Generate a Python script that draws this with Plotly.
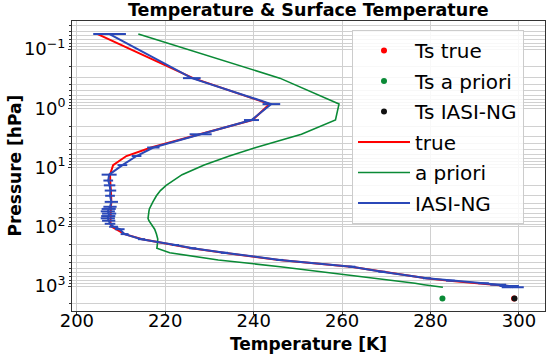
import plotly.graph_objects as go

# ---------------- data ----------------
pressure = [0.056, 0.31, 0.85, 1.58, 2.75, 4.6, 6.4, 9.1, 13.2, 16.6, 20, 24.5, 30, 38,
            46, 50, 55, 60, 66, 72, 79, 89, 100, 110, 133, 162, 203, 231, 275, 363,
            472, 574, 741, 813, 900, 950, 1000, 1050]
t_true = [204.7, 226.3, 243.6, 239.7, 227.8, 216.8, 211.2, 208.2, 207.5, 207.5, 207.6, 207.7, 207.8, 207.8,
          207.7, 207.7, 207.6, 207.6, 207.6, 207.6, 207.6, 207.6, 207.9, 208.8, 210.8, 214.8, 222.5, 226.0, 233.2, 245.7,
          262.0, 269.2, 279.0, 284.3, 291.8, 295.0, 297.5, 298.3]
t_apriori = [213.9, 245.9, 259.3, 258.5, 250.8, 240.5, 234.5, 228.8, 223.8, 221.7, 220.2, 218.9, 218.0, 217.2,
             216.6, 216.4, 216.3, 216.2, 216.1, 216.1, 216.3, 216.8, 217.3, 217.6, 218.0, 218.3, 218.2, 218.1, 221.0, 232.0,
             246.0, 255.5, 268.5, 272.5, 276.5, 278.5, 280.5, 282.8]
t_iasi = [207.4, 226.0, 244.0, 239.5, 228.0, 217.3, 213.5, 210.3, 207.3, 207.1, 207.4, 207.6, 207.5, 207.8,
          207.5, 207.2, 207.0, 207.3, 207.1, 207.0, 207.2, 207.5, 208.3, 209.7, 210.8, 214.6, 222.3, 226.2, 233.4, 245.9,
          262.2, 269.0, 279.2, 284.5, 292.0, 295.3, 297.8, 298.6]
t_iasi_err = [3.7, 2.0, 2.0, 1.7, 2.5, 1.4, 1.1, 1.1, 1.7, 1.1, 1.3, 1.3, 1.1, 1.5,
              1.5, 1.6, 1.6, 1.6, 1.6, 1.6, 1.5, 1.2, 1.0, 1.1, 0.9, 0.8, 0.8, 0.8, 0.8, 0.8,
              0.8, 0.8, 0.9, 1.0, 1.2, 1.8, 2.2, 2.5]

ts_pressure = 1620
ts_true = 298.9
ts_apriori = 282.7
ts_iasi = 299.0

x_ticks = [200, 220, 240, 260, 280, 300]
y_ticks = [0.1, 1, 10, 100, 1000]
y_tick_labels = ["10<sup>\u22121</sup>", "10<sup>0</sup>", "10<sup>1</sup>", "10<sup>2</sup>", "10<sup>3</sup>"]

RED = "#ff0000"
GREEN = "#0a8a36"
BLUE = "#2a48b8"
BLACK = "#111111"
GRID = "#d0d0d0"
FONT = "DejaVu Sans"

# layout geometry (pixels)
W, H = 550, 357
ML, MR, MT, MB = 72, 5, 21, 46
PW, PH = W - ML - MR, H - MT - MB

# minor grid values 2..9 x each decade
minor_vals = [m * 10.0 ** e for e in range(-2, 4) for m in range(2, 10)]

fig = go.Figure()
fig.add_trace(go.Scatter(x=[ts_true], y=[ts_pressure], mode="markers", name="Ts true",
                         marker=dict(color=RED, size=6), legendgroup="g1"))
fig.add_trace(go.Scatter(x=[ts_apriori], y=[ts_pressure], mode="markers", name="Ts a priori",
                         marker=dict(color=GREEN, size=6), legendgroup="g2"))
fig.add_trace(go.Scatter(x=[ts_iasi], y=[ts_pressure], mode="markers", name="Ts IASI-NG",
                         marker=dict(color=BLACK, size=6), legendgroup="g3"))
fig.add_trace(go.Scatter(x=t_true, y=pressure, mode="lines", name="true",
                         line=dict(color=RED, width=2), legendgroup="g4"))
fig.add_trace(go.Scatter(x=t_apriori, y=pressure, mode="lines", name="a priori",
                         line=dict(color=GREEN, width=1.6), legendgroup="g5"))
fig.add_trace(go.Scatter(x=t_iasi, y=pressure, mode="lines", name="IASI-NG",
                         line=dict(color=BLUE, width=2), legendgroup="g6",
                         error_x=dict(type="data", array=t_iasi_err, color=BLUE, thickness=2, width=0)))

fig.update_layout(
    width=W, height=H,
    margin=dict(l=ML, r=MR, t=MT, b=MB, autoexpand=False),
    plot_bgcolor="white", paper_bgcolor="white",
    font=dict(family=FONT, color="black"),
    showlegend=True,
    legend=dict(x=(352 - ML) / PW, y=(MT + PH - 30) / PH, xanchor="left", yanchor="top",
                bgcolor="rgba(255,255,255,0.85)", bordercolor="#cccccc", borderwidth=1,
                font=dict(size=20, family=FONT), tracegroupgap=1.5, itemwidth=52),
    annotations=[
        dict(text="<b>Temperature & Surface Temperature</b>", xref="paper", yref="paper",
             x=0.5, y=1 + (MT - 10) / PH, xanchor="center", yanchor="middle", showarrow=False,
             font=dict(size=17.5, family=FONT)),
        dict(text="<b>Temperature [K]</b>", xref="paper", yref="paper",
             x=0.5, y=-(344 - (MT + PH)) / PH, xanchor="center", yanchor="middle", showarrow=False,
             font=dict(size=17, family=FONT)),
        dict(text="<b>Pressure [hPa]</b>", xref="paper", yref="paper", textangle=-90,
             x=(14.5 - ML) / PW, y=0.5, xanchor="center", yanchor="middle", showarrow=False,
             font=dict(size=17, family=FONT)),
    ],
)
fig.update_xaxes(range=[198.9, 305.9], tickvals=x_ticks, ticks="outside", ticklen=3, tickcolor="#333",
                 showline=True, mirror=True, linecolor="#333", linewidth=1, automargin=False,
                 showgrid=True, gridcolor=GRID, gridwidth=1, zeroline=False,
                 tickfont=dict(size=18), ticklabelstandoff=-10)
fig.update_yaxes(type="log", range=[3.422, -1.473], tickvals=y_ticks, ticktext=y_tick_labels,
                 ticks="outside", ticklen=3, tickcolor="#333", automargin=False,
                 showline=True, mirror=True, linecolor="#333", linewidth=1,
                 showgrid=True, gridcolor=GRID, gridwidth=1, zeroline=False,
                 tickfont=dict(size=18), ticklabelstandoff=-1,
                 minor=dict(tickvals=minor_vals, showgrid=True, gridcolor=GRID, gridwidth=1,
                            ticks="outside", ticklen=2, tickcolor="#333"))

fig.write_html("out.html", config={"displayModeBar": False},
               post_script="document.body.style.margin='0';document.body.style.padding='0';")
